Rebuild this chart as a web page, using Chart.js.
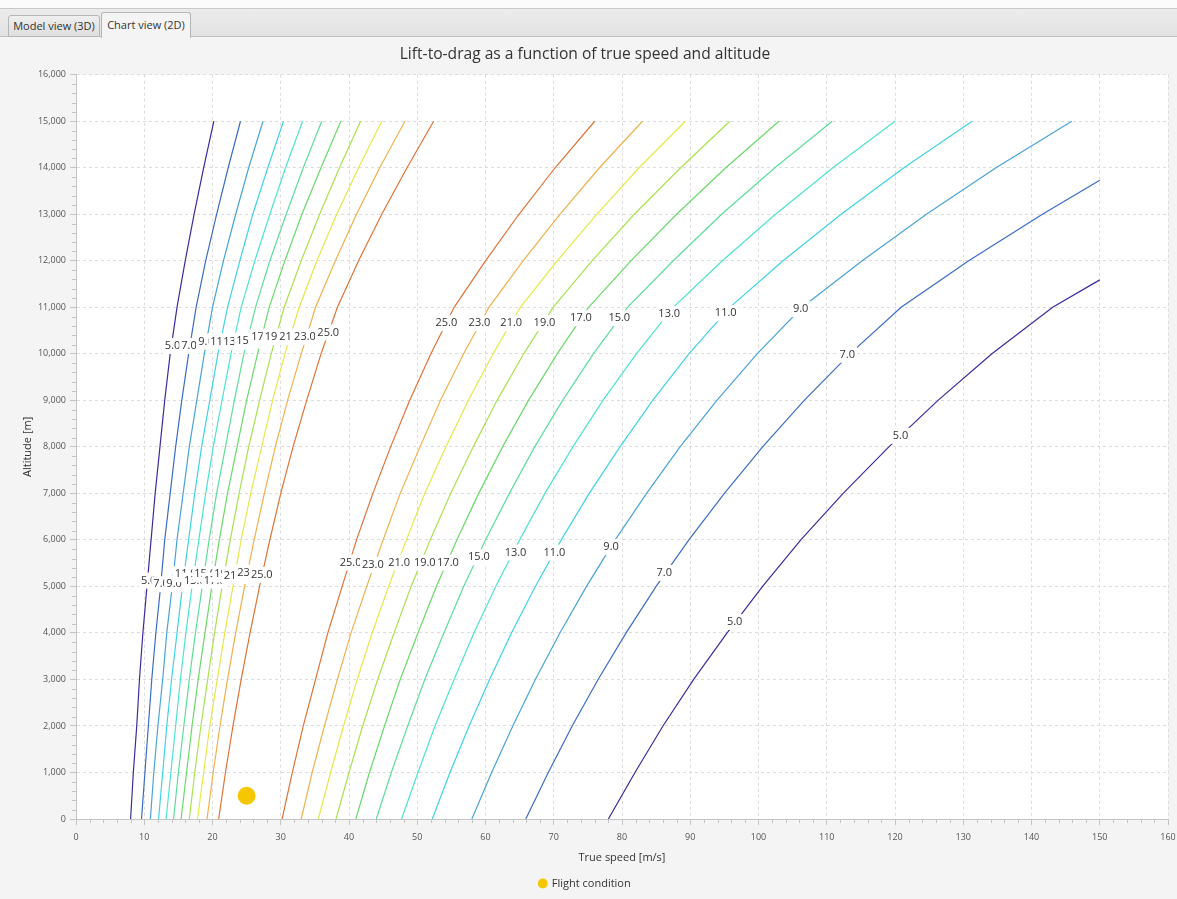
<!DOCTYPE html>
<html>
<head>
<meta charset="utf-8">
<script src="https://cdn.jsdelivr.net/npm/chart.js@4.4.1/dist/chart.umd.min.js"></script>
<style>
    body { margin: 0; background: #f4f4f4; font-family: 'Open Sans', 'Noto Sans', sans-serif; width: 1177px; height: 899px; overflow: hidden; position: relative; }
    #faixa { position: absolute; left: 0; top: 0; width: 1177px; height: 8px; background: #fbfbfb; border-bottom: 1px solid #c9c9c9; }
    #abas { position: absolute; left: 0; top: 9px; width: 1177px; height: 27px; background: linear-gradient(#ececec, #e2e2e2); border-bottom: 1px solid #c2c2c2; }
    .aba { position: absolute; font-size: 11px; color: #333; text-align: center; box-sizing: border-box; border: 1px solid #b6b6b6; border-radius: 3px 3px 0 0; }
    #aba1 { left: 8px; top: 15px; width: 92px; height: 22px; line-height: 20px; background: linear-gradient(#efefef, #dedede); }
    #aba2 { left: 101px; top: 12px; width: 90px; height: 26px; line-height: 24px; background: #f4f4f4; border-bottom: none; }
    #grafico { position: absolute; left: 0; top: 37px; }
</style>
</head>
<body>
<div id="faixa"></div>
<div id="abas"></div>
<div class="aba" id="aba1">Model view (3D)</div>
<div class="aba" id="aba2">Chart view (2D)</div>
<canvas id="grafico" width="1177" height="862"></canvas>

<script>
// niveis de L/D desenhados
var niveis = [5, 7, 9, 11, 13, 15, 17, 19, 21, 23, 25];
var cores = ['#3d2a9e', '#3b6cc4', '#4aa3d6', '#3fd3e3', '#4ee3cf', '#5ddc9c', '#6bd86a', '#a9e14f', '#e2ea48', '#f0b04c', '#df7238'];

// altitudes [m] em que as velocidades foram lidas
var altitudes = [0, 1000, 2000, 3000, 4000, 5000, 6000, 7000, 8000, 9000, 10000, 11000, 12000, 13000, 14000, 15000];

// ramo de baixa velocidade (um por nivel, 5 -> 25) [m/s]
var ramoLento = [
    [8.0, 8.4, 8.9, 9.3, 9.8, 10.4, 11.0, 11.6, 12.3, 13.0, 13.8, 14.8, 16.0, 17.3, 18.7, 20.2],
    [9.6, 10.1, 10.6, 11.1, 11.7, 12.4, 13.0, 13.8, 14.6, 15.5, 16.5, 17.6, 19.0, 20.6, 22.3, 24.1],
    [10.9, 11.4, 12.0, 12.7, 13.3, 14.1, 14.8, 15.7, 16.6, 17.7, 18.8, 20.0, 21.6, 23.4, 25.3, 27.4],
    [12.1, 12.7, 13.3, 14.0, 14.8, 15.6, 16.5, 17.4, 18.4, 19.6, 20.8, 22.2, 24.0, 25.9, 28.1, 30.4],
    [13.2, 13.9, 14.6, 15.3, 16.1, 17.0, 18.0, 19.0, 20.1, 21.4, 22.7, 24.2, 26.2, 28.4, 30.7, 33.2],
    [14.3, 15.0, 15.8, 16.6, 17.5, 18.5, 19.5, 20.6, 21.9, 23.2, 24.6, 26.3, 28.4, 30.8, 33.3, 36.0],
    [15.4, 16.2, 17.0, 17.9, 18.9, 19.9, 21.0, 22.2, 23.6, 25.0, 26.6, 28.3, 30.6, 33.1, 35.9, 38.8],
    [16.6, 17.4, 18.3, 19.3, 20.3, 21.4, 22.6, 23.9, 25.3, 26.9, 28.6, 30.5, 33.0, 35.7, 38.6, 41.7],
    [17.8, 18.7, 19.6, 20.7, 21.8, 23.0, 24.2, 25.6, 27.2, 28.8, 30.6, 32.7, 35.3, 38.2, 41.4, 44.8],
    [19.2, 20.1, 21.1, 22.2, 23.4, 24.7, 26.1, 27.6, 29.2, 31.0, 33.0, 35.1, 38.0, 41.1, 44.5, 48.2],
    [20.9, 21.9, 23.0, 24.2, 25.5, 26.9, 28.4, 30.0, 31.8, 33.8, 35.9, 38.3, 41.4, 44.8, 48.5, 52.4]
];

// ramo de alta velocidade (nivel 5 -> 25), cortado em 150 m/s
var ramoRapido = [
    [78.0, 81.9, 86.0, 90.5, 95.4, 100.6, 106.2, 112.4, 119.1, 126.3, 134.2, 143.1, 150.0],
    [65.9, 69.2, 72.7, 76.5, 80.6, 85.0, 89.8, 95.0, 100.6, 106.7, 113.4, 120.9, 130.8, 141.6, 150.0],
    [58.0, 60.9, 64.0, 67.3, 70.9, 74.8, 79.0, 83.6, 88.5, 93.9, 99.8, 106.4, 115.2, 124.6, 134.8, 145.9],
    [52.2, 54.8, 57.6, 60.6, 63.8, 67.3, 71.1, 75.2, 79.7, 84.5, 89.8, 95.8, 103.6, 112.1, 121.3, 131.3],
    [47.7, 50.1, 52.6, 55.4, 58.3, 61.5, 65.0, 68.7, 72.8, 77.2, 82.1, 87.5, 94.7, 102.5, 110.9, 120.0],
    [44.0, 46.2, 48.6, 51.1, 53.9, 56.8, 60.0, 63.5, 67.2, 71.3, 75.8, 80.8, 87.5, 94.6, 102.4, 110.8],
    [41.0, 43.0, 45.2, 47.5, 50.1, 52.8, 55.8, 59.0, 62.5, 66.3, 70.5, 75.1, 81.3, 88.0, 95.2, 103.0],
    [38.1, 40.0, 42.0, 44.2, 46.6, 49.1, 51.9, 54.9, 58.2, 61.7, 65.6, 69.9, 75.6, 81.8, 88.6, 95.8],
    [35.5, 37.3, 39.2, 41.2, 43.4, 45.8, 48.4, 51.1, 54.2, 57.5, 61.1, 65.1, 70.5, 76.3, 82.5, 89.3],
    [33.0, 34.6, 36.4, 38.3, 40.3, 42.6, 45.0, 47.5, 50.4, 53.4, 56.8, 60.5, 65.5, 70.9, 76.7, 83.0],
    [30.2, 31.7, 33.3, 35.1, 36.9, 39.0, 41.1, 43.5, 46.1, 48.9, 52.0, 55.4, 60.0, 64.9, 70.2, 76.0]
];
// altitude do ultimo ponto de cada linha rapida
var topoRapido = [11590, 13730, 15000, 15000, 15000, 15000, 15000, 15000, 15000, 15000, 15000];

// posicoes dos rotulos [velocidade, altitude], nivel 5 -> 25
var rotulosLentoCima = [[14.15, 10170], [16.56, 10170], [19.05, 10265], [21.27, 10265], [23.17, 10265], [25.07, 10285], [27.27, 10365], [29.24, 10365], [31.36, 10370], [33.55, 10370], [36.96, 10460]];
var rotulosLentoBaixo = [[10.64, 5125], [12.47, 5047], [14.37, 5047], [16.08, 5262], [17.40, 5125], [18.93, 5262], [20.32, 5125], [21.86, 5262], [23.25, 5226], [25.22, 5297], [27.22, 5247]];
var rotulosRapidoCima = [[120.8, 8237], [113.0, 9980], [106.17, 10961], [95.2, 10874], [86.92, 10860], [79.6, 10767], [73.99, 10767], [68.64, 10660], [63.77, 10660], [59.12, 10660], [54.27, 10660]];
var rotulosRapidoBaixo = [[96.5, 4237], [86.2, 5290], [78.4, 5843], [70.1, 5727], [64.4, 5727], [59.04, 5627], [54.5, 5512], [51.1, 5512], [47.34, 5512], [43.5, 5462], [40.23, 5512]];

// condicao de voo
var vooVelocidade = [25];
var vooAltitude = [500];

var FONTE = "'Open Sans', 'Noto Sans', sans-serif";

function montarDatasets() {
    var lista = [{
        label: 'Flight condition',
        data: vooVelocidade.map((v, i) => ({ x: v, y: vooAltitude[i] })),
        pointRadius: 9,
        pointHoverRadius: 9,
        pointBackgroundColor: '#f4c700',
        backgroundColor: '#f4c700',
        pointBorderWidth: 0,
        borderWidth: 0,
        showLine: false
    }];
    niveis.forEach((nivel, k) => {
        lista.push({
            label: 'L/D ' + nivel,
            data: ramoLento[k].map((v, i) => ({ x: v, y: altitudes[i] })),
            showLine: true, pointRadius: 0, borderWidth: 1.2, borderColor: cores[k], fill: false
        });
        var linha = ramoRapido[k];
        lista.push({
            label: 'L/D ' + nivel + ' (alta)',
            data: linha.map((v, i) => ({ x: v, y: i === linha.length - 1 ? topoRapido[k] : altitudes[i] })),
            showLine: true, pointRadius: 0, borderWidth: 1.2, borderColor: cores[k], fill: false
        });
    });
    return lista;
}

var fundoPlot = {
    id: 'fundoPlot',
    beforeDraw(chart) {
        const { ctx, chartArea: a } = chart;
        ctx.save();
        ctx.fillStyle = '#ffffff';
        ctx.fillRect(a.left, a.top, a.width, a.height);
        ctx.restore();
    }
};

var ticksMenores = {
    id: 'ticksMenores',
    afterDraw(chart) {
        const { ctx, chartArea: a, scales } = chart;
        ctx.save();
        ctx.strokeStyle = '#c4c4c4';
        ctx.lineWidth = 1;
        ctx.beginPath();
        for (let v = 2; v < 160; v += 2) {
            if (v % 10 === 0) continue;
            const px = Math.round(scales.x.getPixelForValue(v)) + 0.5;
            ctx.moveTo(px, a.bottom);
            ctx.lineTo(px, a.bottom + 4);
        }
        for (let v = 200; v < 16000; v += 200) {
            if (v % 1000 === 0) continue;
            const py = Math.round(scales.y.getPixelForValue(v)) + 0.5;
            ctx.moveTo(a.left, py);
            ctx.lineTo(a.left - 4, py);
        }
        ctx.stroke();
        ctx.restore();
    }
};

var rotulosContorno = {
    id: 'rotulosContorno',
    afterDatasetsDraw(chart) {
        const { ctx, scales } = chart;
        var todos = [];
        [rotulosLentoCima, rotulosLentoBaixo, rotulosRapidoCima, rotulosRapidoBaixo].forEach(grupo => {
            grupo.forEach((p, k) => todos.push({ texto: niveis[k].toFixed(1), x: p[0], y: p[1] }));
        });
        todos.sort((a, b) => a.x - b.x);
        ctx.save();
        ctx.font = '11px ' + FONTE;
        ctx.textAlign = 'center';
        ctx.textBaseline = 'middle';
        todos.forEach(r => {
            const px = scales.x.getPixelForValue(r.x);
            const py = scales.y.getPixelForValue(r.y);
            const w = ctx.measureText(r.texto).width;
            ctx.fillStyle = '#ffffff';
            ctx.fillRect(px - w / 2 - 2, py - 8, w + 4, 16);
            ctx.fillStyle = '#333333';
            ctx.fillText(r.texto, px, py);
        });
        ctx.restore();
    }
};

function plotarGrafico() {
    new Chart(document.getElementById('grafico'), {
        type: 'scatter',
        data: { datasets: montarDatasets() },
        options: {
            responsive: false,
            animation: false,
            devicePixelRatio: 1,
            layout: { padding: { left: 0, right: 7, top: 0, bottom: 0 } },
            plugins: {
                title: {
                    display: true,
                    text: 'Lift-to-drag as a function of true speed and altitude',
                    color: '#333',
                    font: { size: 15.6, weight: 'normal', family: FONTE },
                    padding: { top: 8, bottom: 11 }
                },
                legend: {
                    position: 'bottom',
                    labels: {
                        filter: item => item.text === 'Flight condition',
                        usePointStyle: true,
                        pointStyle: 'circle',
                        boxHeight: 7,
                        boxWidth: 7,
                        padding: 10,
                        color: '#333',
                        font: { size: 11, family: FONTE }
                    }
                },
                tooltip: { enabled: false }
            },
            scales: {
                x: {
                    type: 'linear', min: 0, max: 160,
                    ticks: { stepSize: 10, color: '#555', padding: 7, font: { size: 9, family: FONTE } },
                    grid: { color: '#dcdcdc', tickColor: '#c4c4c4', tickLength: 6 },
                    border: { color: '#c4c4c4', dash: [3, 3] },
                    title: { display: true, text: 'True speed [m/s]', color: '#333', font: { size: 11, family: FONTE }, padding: { top: 0, bottom: 4 } },
                    afterFit: s => { s.height = 49; s.paddingLeft = 0; s.paddingRight = 0; }
                },
                y: {
                    type: 'linear', min: 0, max: 16000,
                    ticks: { stepSize: 1000, color: '#555', padding: 4, font: { size: 9, family: FONTE }, callback: v => v.toLocaleString('en-US') },
                    grid: { color: '#dcdcdc', tickColor: '#c4c4c4', tickLength: 6 },
                    border: { color: '#c4c4c4', dash: [3, 3] },
                    title: { display: true, text: 'Altitude [m]', color: '#333', font: { size: 11, family: FONTE }, padding: { top: 21, bottom: 0 } },
                    afterFit: s => { s.width = 76; s.paddingTop = 0; s.paddingBottom = 0; }
                }
            }
        },
        plugins: [fundoPlot, ticksMenores, rotulosContorno]
    });
}

window.onload = function () {
    plotarGrafico();
};
</script>
</body>
</html>
